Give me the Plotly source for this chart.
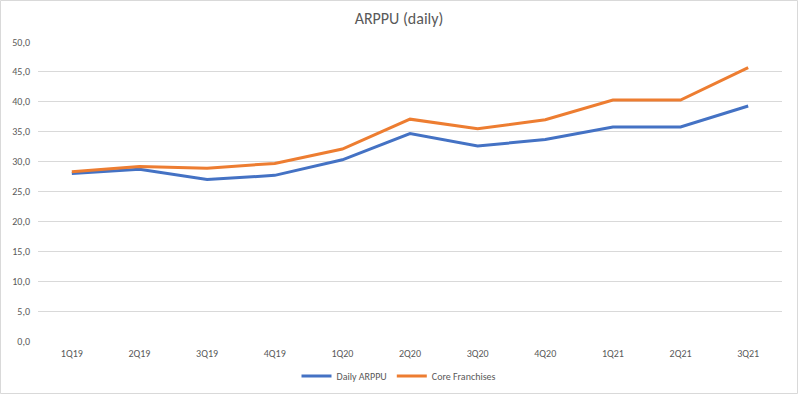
import plotly.graph_objects as go

categories = ["1Q19", "2Q19", "3Q19", "4Q19", "1Q20", "2Q20", "3Q20", "4Q20", "1Q21", "2Q21", "3Q21"]
daily_arppu = [28.0, 28.7, 27.0, 27.7, 30.3, 34.7, 32.6, 33.7, 35.8, 35.8, 39.3]
core_franchises = [28.3, 29.2, 28.9, 29.7, 32.1, 37.1, 35.5, 37.0, 40.3, 40.3, 45.7]
y_ticks = [0, 5, 10, 15, 20, 25, 30, 35, 40, 45, 50]

W, H = 798, 394
ml, mr, mt, mb = 38, 16, 42, 53
pw, ph = W - ml - mr, H - mt - mb

font_family = "Carlito, Calibri, 'Liberation Sans Narrow', 'Liberation Sans', Arial, sans-serif"
txt = "#595959"

fig = go.Figure()
fig.add_trace(go.Scatter(x=categories, y=daily_arppu, mode="lines", name="Daily ARPPU",
                         line=dict(color="#4472C4", width=3)))
fig.add_trace(go.Scatter(x=categories, y=core_franchises, mode="lines", name="Core Franchises",
                         line=dict(color="#ED7D31", width=3)))

fig.update_layout(
    width=W, height=H,
    margin=dict(l=ml, r=mr, t=mt, b=mb, autoexpand=False),
    paper_bgcolor="white", plot_bgcolor="white",
    separators=",.",
    font=dict(family=font_family, color=txt, size=10),
    title=dict(text="ARPPU (daily)", x=0.5, xanchor="center", y=1 - 18 / H, yanchor="middle",
               font=dict(size=16, color=txt, family=font_family)),
    xaxis=dict(type="category", showgrid=False, showline=False, ticks="", zeroline=False,
               automargin=False, ticklabelstandoff=5,
               tickfont=dict(size=10, color=txt), range=[-0.5, len(categories) - 0.5]),
    yaxis=dict(range=[0, 50], tickvals=y_ticks, tickformat=".1f", showgrid=True,
               gridcolor="#D9D9D9", gridwidth=1, zeroline=False, showline=False, ticks="",
               automargin=False,
               tickfont=dict(size=10, color=txt), ticklabelstandoff=7),
    legend=dict(orientation="h", x=0.5, xanchor="center", xref="container",
                y=1 - 376 / H, yanchor="middle", yref="container",
                font=dict(size=10, color=txt), tracegroupgap=0),
    showlegend=True,
)
fig.add_shape(type="rect", xref="paper", yref="paper",
              x0=-(ml - 0.5) / pw, x1=(pw + mr - 0.5) / pw,
              y0=-(mb - 0.5) / ph, y1=(ph + mt - 0.5) / ph,
              line=dict(color="#D9D9D9", width=1), fillcolor="rgba(0,0,0,0)", layer="below")

fig.write_html("out.html", config={"displayModeBar": False},
               post_script="document.body.style.margin='0';document.body.style.overflow='hidden';")
